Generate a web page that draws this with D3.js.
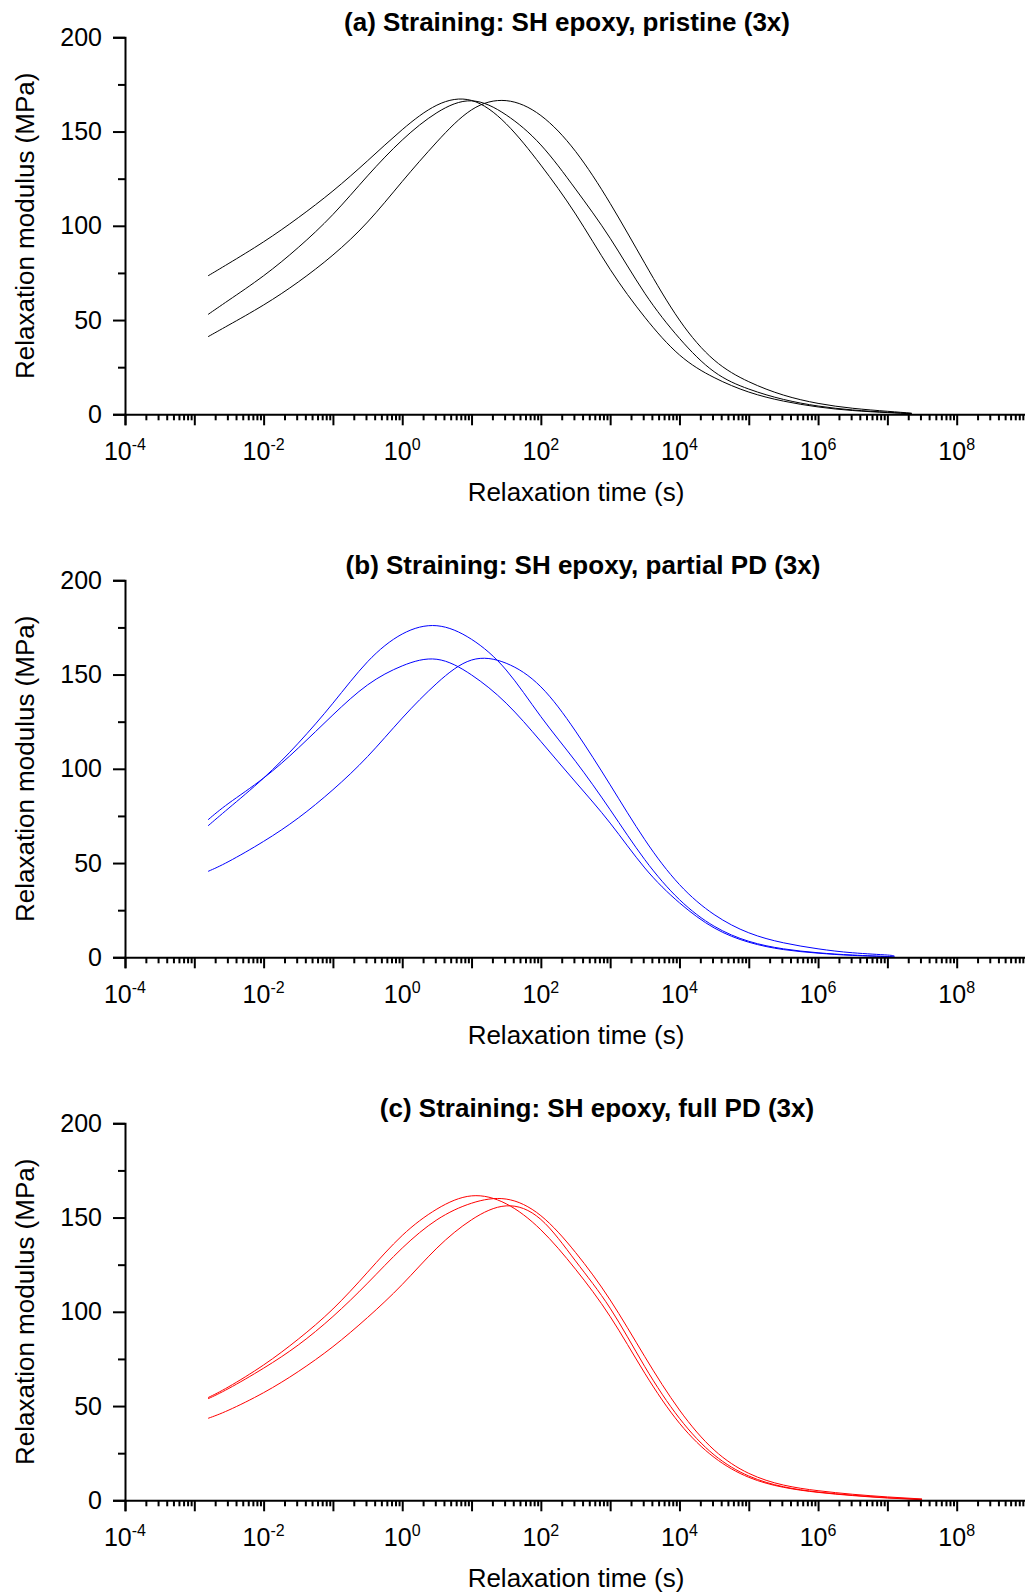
<!DOCTYPE html>
<html>
<head>
<meta charset="utf-8">
<script src="https://cdnjs.cloudflare.com/ajax/libs/d3/7.8.5/d3.min.js"></script>
<style>
  body { margin: 0; background: #fff; }
  svg { display: block; font-family: "Liberation Sans", Arial, sans-serif; }
</style>
</head>
<body>
<script>
// log10 of relaxation time (s) at which the curves were read
var logTimeA = [-2.8, -2.5, -2, -1.5, -1, -0.5, 0, 0.5, 1, 1.5, 2, 2.5, 3, 3.5, 4, 4.5, 5, 5.5, 6, 6.5, 7, 7.35];
var logTimeB = [-2.8, -2.5, -2, -1.5, -1, -0.5, 0, 0.5, 1, 1.5, 2, 2.5, 3, 3.5, 4, 4.5, 5, 5.5, 6, 6.5, 7, 7.1];
var logTimeC = [-2.8, -2.5, -2, -1.5, -1, -0.5, 0, 0.5, 1, 1.5, 2, 2.5, 3, 3.5, 4, 4.5, 5, 5.5, 6, 6.5, 7, 7.5];

// relaxation modulus (MPa)
var pristine1 = [73.5, 80.1, 91.5, 104.3, 118.5, 134.5, 151, 164, 166.5, 154.1, 132.2, 106.3, 76.9, 51.5, 31.5, 19.5, 11.8, 7.0, 3.9, 2.0, 0.9, 0.3];
var pristine2 = [53, 60.6, 73.5, 88.5, 106, 126.5, 145.5, 160, 166.3, 158.8, 142.9, 119.5, 93.4, 64.2, 40.3, 22.6, 13.4, 7.9, 4.4, 2.3, 1.1, 0.4];
var pristine3 = [41.2, 47.4, 58, 70.2, 84.5, 102, 123.5, 144.5, 161.5, 166.4, 158.5, 139.5, 111.9, 80.1, 50, 28.8, 17.3, 10.2, 5.8, 3.2, 1.6, 0.6];

var partial1 = [69.8, 79.2, 95.1, 113.6, 134.8, 156.8, 171.5, 175.9, 168.7, 152.4, 127.7, 104, 78.3, 51.8, 30.6, 16.5, 8.5, 4.5, 2.4, 1.2, 0.4, 0.2];
var partial2 = [73.0, 81.8, 95.1, 111, 128.6, 144.5, 154.6, 158.1, 149.8, 134.8, 114.5, 93, 71.2, 47.4, 28.9, 15.6, 8, 4.1, 2.2, 1, 0.4, 0.2];
var partial3 = [45.6, 50.9, 61.5, 73.9, 88.9, 106.5, 126.9, 145.4, 157.7, 156, 143.5, 120, 91.5, 62.4, 38.6, 22.7, 13, 7.7, 4.5, 2.4, 1.2, 0.6];

var full1 = [54.5, 60.3, 71.8, 85.5, 101.5, 121, 140.5, 154.5, 161.5, 157.3, 143.5, 122.6, 97.5, 67.4, 40.9, 22.8, 12.2, 6.9, 4.2, 2.5, 1.2, 0.3];
var full2 = [53.9, 59.4, 70.1, 82.4, 97.5, 115.2, 133.8, 148.8, 157.6, 159.8, 151, 131.5, 106.3, 76.2, 47.9, 26.7, 14.3, 8.1, 5.1, 3.2, 1.8, 0.7];
var full3 = [43.5, 47.9, 57.1, 68.3, 81.5, 97, 114.5, 133.8, 148.8, 156.2, 149, 127, 101.9, 70.9, 43.5, 24.1, 12.9, 7.2, 4.4, 2.7, 1.4, 0.5];

var titles = ["(a) Straining: SH epoxy, pristine (3x)",
              "(b) Straining: SH epoxy, partial PD (3x)",
              "(c) Straining: SH epoxy, full PD (3x)"];
var yTicks = [0, 50, 100, 150, 200];
var yMinorTicks = [25, 75, 125, 175];
var xExponents = d3.range(-4, 10);

var panels = [
  { title: titles[0], t: logTimeA, series: [pristine1, pristine2, pristine3], color: "#000000", tx: 567 },
  { title: titles[1], t: logTimeB, series: [partial1, partial2, partial3], color: "#0000ff", tx: 583 },
  { title: titles[2], t: logTimeC, series: [full1, full2, full3], color: "#ff0000", tx: 597 }
];

var width = 1025, height = 1596;
var left = 125, plotH = 377, step = 543, top0 = 37.3;

var svg = d3.select("body").append("svg")
    .attr("width", width)
    .attr("height", height);

var x = d3.scaleLog().domain([1e-4, 1e9]).range([left, 1026]);
var y = d3.scaleLinear().domain([0, 200]).range([plotH, 0]);

var xMinor = [];
xExponents.forEach(function(e) {
  for (var k = 2; k <= 9; k++) xMinor.push(k * Math.pow(10, e));
});
xMinor = xMinor.filter(function(v) { return v < 1e9; });

var line = d3.line()
    .x(function(d) { return x(Math.pow(10, d[0])); })
    .y(function(d) { return y(d[1]); })
    .curve(d3.curveNatural);

panels.forEach(function(p, i) {
  var g = svg.append("g").attr("transform", "translate(0," + (top0 + i * step) + ")");

  // curves
  p.series.forEach(function(s) {
    g.append("path")
      .datum(p.t.map(function(t, j) { return [t, s[j]]; }))
      .attr("d", line)
      .attr("fill", "none")
      .attr("stroke", p.color)
      .attr("stroke-width", 1);
  });

  // y axis
  var yAxis = g.append("g").attr("transform", "translate(" + left + ",0)")
      .call(d3.axisLeft(y).tickValues(yTicks).tickSize(12).tickPadding(11));
  g.append("g").attr("transform", "translate(" + left + ",0)")
      .call(d3.axisLeft(y).tickValues(yMinorTicks).tickSize(7).tickFormat(""))
      .select(".domain").remove();

  // x axis
  g.append("g").attr("transform", "translate(0," + plotH + ")")
      .call(d3.axisBottom(x).tickValues(xExponents.map(function(e) { return Math.pow(10, e); }))
        .tickSize(11).tickFormat(""));
  g.append("g").attr("transform", "translate(0," + plotH + ")")
      .call(d3.axisBottom(x).tickValues(xMinor).tickSize(6).tickFormat(""))
      .select(".domain").remove();

  g.selectAll(".tick line").attr("stroke-width", 2);
  g.selectAll(".domain").attr("stroke-width", 2);
  yAxis.selectAll("text").attr("font-size", 25).attr("font-family", "Liberation Sans, Arial, sans-serif").attr("fill", "#000");

  // decade labels as 10^n
  var labels = g.append("g").attr("transform", "translate(0," + plotH + ")");
  xExponents.filter(function(e) { return e % 2 === 0; }).forEach(function(e) {
    var tx = labels.append("text")
      .attr("x", x(Math.pow(10, e)))
      .attr("y", 46)
      .attr("text-anchor", "middle")
      .attr("font-size", 25)
      .attr("fill", "#000");
    tx.append("tspan").text("10");
    tx.append("tspan").attr("font-size", 16).attr("dy", -10).text(String(e));
  });

  // axis titles
  g.append("text")
    .attr("transform", "translate(34," + (plotH / 2) + ") rotate(-90)")
    .attr("text-anchor", "middle")
    .attr("font-size", 26)
    .text("Relaxation modulus (MPa)");
  g.append("text")
    .attr("x", 576)
    .attr("y", plotH + 86.5)
    .attr("text-anchor", "middle")
    .attr("font-size", 26)
    .text("Relaxation time (s)");

  // panel title
  g.append("text")
    .attr("x", p.tx)
    .attr("y", -6.3)
    .attr("text-anchor", "middle")
    .attr("font-size", 26)
    .attr("font-weight", "bold")
    .text(p.title);
});
</script>
</body>
</html>
